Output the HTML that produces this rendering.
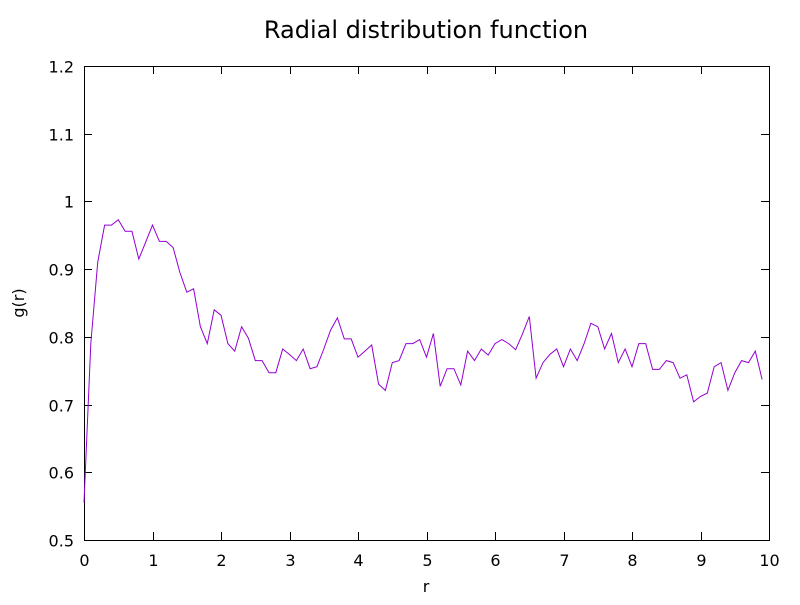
<!DOCTYPE html>
<html><head><meta charset="utf-8"><style>
body{margin:0;background:#fff;}
svg text{font-family:"DejaVu Sans","Liberation Sans",sans-serif;}
</style></head><body>
<svg id="chart" width="800" height="600" xmlns="http://www.w3.org/2000/svg">
<rect width="800" height="600" fill="#fff"/>
<text x="426" y="38" font-size="24" text-anchor="middle">Radial distribution function</text>
<g id="axes"></g>
<text x="426" y="592" font-size="16" text-anchor="middle">r</text>
<text x="24" y="303" font-size="16" text-anchor="middle" transform="rotate(-90 24 303)">g(r)</text>
</svg>
<script>
const gValues=[0.555,0.79,0.91,0.965,0.965,0.973,0.956,0.956,0.915,0.94,
0.965,0.941,0.941,0.932,0.895,0.866,0.871,0.815,0.79,0.84,
0.832,0.79,0.779,0.815,0.798,0.765,0.765,0.747,0.747,0.782,
0.774,0.765,0.782,0.753,0.756,0.782,0.81,0.828,0.797,0.797,
0.77,0.779,0.788,0.73,0.721,0.762,0.765,0.79,0.79,0.796,
0.77,0.805,0.727,0.753,0.753,0.729,0.779,0.765,0.782,0.773,
0.79,0.796,0.79,0.781,0.804,0.83,0.739,0.762,0.774,0.782,
0.756,0.782,0.765,0.79,0.82,0.815,0.782,0.805,0.762,0.782,
0.756,0.79,0.79,0.752,0.752,0.765,0.762,0.739,0.744,0.704,
0.712,0.717,0.756,0.762,0.721,0.747,0.765,0.762,0.779,0.737];
const rStep=0.1;
const xTicks=[0,1,2,3,4,5,6,7,8,9,10];
const yTicks=[0.5,0.6,0.7,0.8,0.9,1,1.1,1.2];
const X0=84,X1=769,Y0=540,Y1=66;
const xs=v=>X0+(v-0)/(10-0)*(X1-X0);
const ys=v=>Y0-(v-0.5)/(1.2-0.5)*(Y0-Y1);
const ns="http://www.w3.org/2000/svg";
const g=document.getElementById('axes');
function mk(t,a){const e=document.createElementNS(ns,t);for(const k in a)e.setAttribute(k,a[k]);g.appendChild(e);return e;}
const frame=mk('rect',{x:X0+.5,y:Y1+.5,width:X1-X0,height:Y0-Y1,fill:'none',stroke:'#000','stroke-width':1});


xTicks.forEach(t=>{const x=Math.round(xs(t))+.5;
const l1=mk('line',{x1:x,x2:x,y1:Y0,y2:Y0-8,stroke:'#000'});


const l2=mk('line',{x1:x,x2:x,y1:Y1,y2:Y1+8,stroke:'#000'});


const tx=mk('text',{x:x,y:566,'font-size':16,'text-anchor':'middle'});tx.textContent=t;

});
yTicks.forEach(t=>{const y=Math.round(ys(t))+.5;
const l1=mk('line',{x1:X0,x2:X0+8,y1:y,y2:y,stroke:'#000'});


const l2=mk('line',{x1:X1,x2:X1-8,y1:y,y2:y,stroke:'#000'});


const tx=mk('text',{x:74,y:y+6,'font-size':16,'text-anchor':'end'});tx.textContent=String(t);

});
const pts=gValues.map((v,i)=>xs(i*rStep).toFixed(1)+','+ys(v).toFixed(1)).join(' ');
const line=mk('polyline',{points:pts,fill:'none',stroke:'#9400d3','stroke-width':1});


</script>
</body></html>
